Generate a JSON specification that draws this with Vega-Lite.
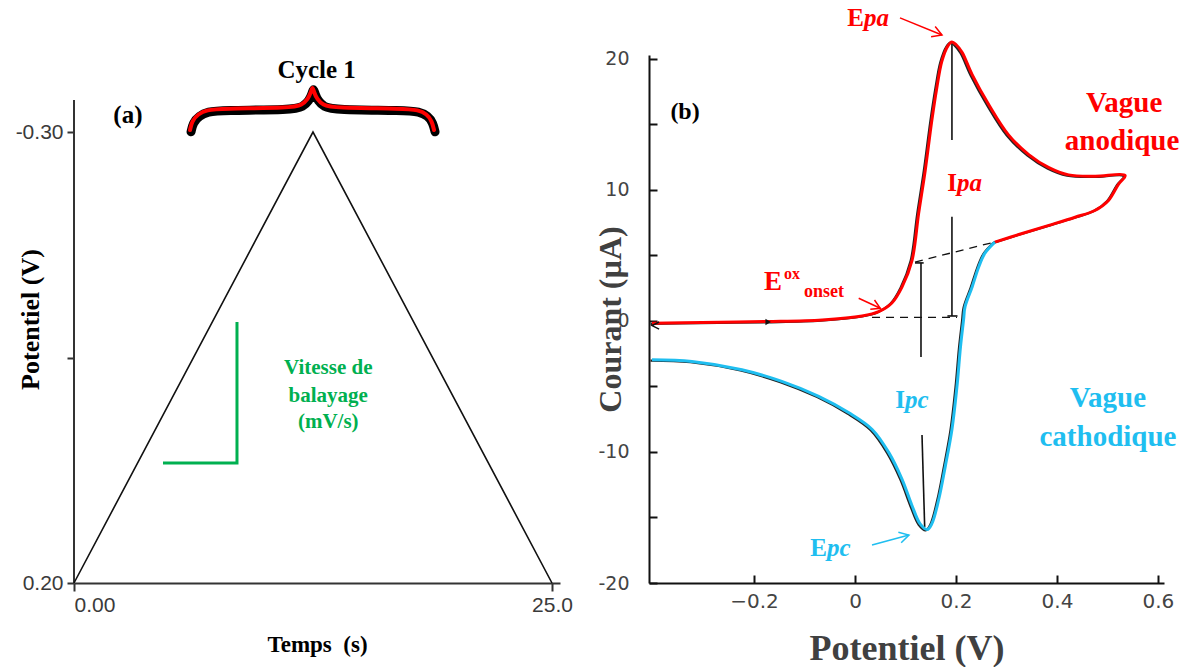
{
  "$schema": "https://vega.github.io/schema/vega-lite/v6.json",
  "padding": {"left": 15, "top": 5, "right": 5, "bottom": 5},
  "spacing": 21,
  "config": {"view": {"stroke": null}},
  "datasets": {
    "triangle": [{"t": 0, "v": 0.2}, {"t": 12.5, "v": -0.3}, {"t": 25, "v": 0.2}],
    "axe_y": [{"t": 0, "v": -0.3355, "v2": 0.2}],
    "accolade": [
      {"o": 1, "t": 6.07, "v": -0.3022}, {"o": 2, "t": 6.17, "v": -0.3122}, {"o": 3, "t": 6.49, "v": -0.32},
      {"o": 4, "t": 6.96, "v": -0.3244}, {"o": 5, "t": 7.64, "v": -0.3261}, {"o": 6, "t": 11.4, "v": -0.3266},
      {"o": 7, "t": 11.92, "v": -0.3299}, {"o": 8, "t": 12.24, "v": -0.3366}, {"o": 9, "t": 12.4, "v": -0.3443},
      {"o": 10, "t": 12.47, "v": -0.351}, {"o": 11, "t": 12.55, "v": -0.3443}, {"o": 12, "t": 12.71, "v": -0.3366},
      {"o": 13, "t": 13.02, "v": -0.3299}, {"o": 14, "t": 13.55, "v": -0.3266}, {"o": 15, "t": 17.31, "v": -0.3261},
      {"o": 16, "t": 17.99, "v": -0.3244}, {"o": 17, "t": 18.46, "v": -0.32}, {"o": 18, "t": 18.72, "v": -0.3122},
      {"o": 19, "t": 18.83, "v": -0.3022}
    ],
    "echelle": [{"o": 1, "t": 8.525, "v": -0.0894}, {"o": 2, "t": 8.525, "v": 0.067}, {"o": 3, "t": 4.655, "v": 0.067}],
    "texte_vert": [
      {"txt": "Vitesse de", "t": 13.3, "v": -0.038},
      {"txt": "balayage", "t": 13.3, "v": -0.0077},
      {"txt": "(mV/s)", "t": 13.3, "v": 0.0212}
    ],
    "textes_a": [{"txt": "(a)", "t": 2.82, "v": -0.3188}, {"txt": "Cycle 1", "t": 12.69, "v": -0.3687}],
    "cv": [
      {"branche": "anodique", "i": 1, "E": -0.402, "I": -0.17},
      {"branche": "anodique", "i": 2, "E": -0.303, "I": -0.11},
      {"branche": "anodique", "i": 3, "E": -0.174, "I": -0.04},
      {"branche": "anodique", "i": 4, "E": -0.065, "I": 0.08},
      {"branche": "anodique", "i": 5, "E": 0.014, "I": 0.38},
      {"branche": "anodique", "i": 6, "E": 0.047, "I": 0.71},
      {"branche": "anodique", "i": 7, "E": 0.073, "I": 1.37},
      {"branche": "anodique", "i": 8, "E": 0.093, "I": 2.58},
      {"branche": "anodique", "i": 9, "E": 0.113, "I": 4.63},
      {"branche": "anodique", "i": 10, "E": 0.126, "I": 8.2},
      {"branche": "anodique", "i": 11, "E": 0.139, "I": 11.47},
      {"branche": "anodique", "i": 12, "E": 0.152, "I": 15.26},
      {"branche": "anodique", "i": 13, "E": 0.162, "I": 17.79},
      {"branche": "anodique", "i": 14, "E": 0.172, "I": 19.82},
      {"branche": "anodique", "i": 15, "E": 0.184, "I": 21.0},
      {"branche": "anodique", "i": 16, "E": 0.192, "I": 21.3},
      {"branche": "anodique", "i": 17, "E": 0.2, "I": 21.1},
      {"branche": "anodique", "i": 18, "E": 0.212, "I": 20.5},
      {"branche": "anodique", "i": 19, "E": 0.232, "I": 18.8},
      {"branche": "anodique", "i": 20, "E": 0.265, "I": 16.5},
      {"branche": "anodique", "i": 21, "E": 0.304, "I": 14.2},
      {"branche": "anodique", "i": 22, "E": 0.344, "I": 12.7},
      {"branche": "anodique", "i": 23, "E": 0.384, "I": 11.7},
      {"branche": "anodique", "i": 24, "E": 0.423, "I": 11.15},
      {"branche": "anodique", "i": 25, "E": 0.475, "I": 11.05},
      {"branche": "anodique", "i": 26, "E": 0.535, "I": 11.1},
      {"branche": "anodique", "i": 27, "E": 0.522, "I": 10.45},
      {"branche": "anodique", "i": 28, "E": 0.502, "I": 9.2},
      {"branche": "anodique", "i": 29, "E": 0.475, "I": 8.43},
      {"branche": "anodique", "i": 30, "E": 0.436, "I": 7.92},
      {"branche": "anodique", "i": 31, "E": 0.384, "I": 7.3},
      {"branche": "anodique", "i": 32, "E": 0.331, "I": 6.68},
      {"branche": "anodique", "i": 33, "E": 0.277, "I": 6.02},
      {"branche": "cathodique", "i": 1, "E": 0.277, "I": 6.02},
      {"branche": "cathodique", "i": 2, "E": 0.257, "I": 5.16},
      {"branche": "cathodique", "i": 3, "E": 0.245, "I": 4.12},
      {"branche": "cathodique", "i": 4, "E": 0.232, "I": 2.6},
      {"branche": "cathodique", "i": 5, "E": 0.218, "I": 1.09},
      {"branche": "cathodique", "i": 6, "E": 0.215, "I": 0.08},
      {"branche": "cathodique", "i": 7, "E": 0.209, "I": -1.95},
      {"branche": "cathodique", "i": 8, "E": 0.202, "I": -4.99},
      {"branche": "cathodique", "i": 9, "E": 0.192, "I": -8.28},
      {"branche": "cathodique", "i": 10, "E": 0.179, "I": -11.06},
      {"branche": "cathodique", "i": 11, "E": 0.166, "I": -13.59},
      {"branche": "cathodique", "i": 12, "E": 0.152, "I": -15.49},
      {"branche": "cathodique", "i": 13, "E": 0.143, "I": -15.92},
      {"branche": "cathodique", "i": 14, "E": 0.129, "I": -15.49},
      {"branche": "cathodique", "i": 15, "E": 0.113, "I": -14.1},
      {"branche": "cathodique", "i": 16, "E": 0.093, "I": -12.07},
      {"branche": "cathodique", "i": 17, "E": 0.067, "I": -10.05},
      {"branche": "cathodique", "i": 18, "E": 0.034, "I": -8.28},
      {"branche": "cathodique", "i": 19, "E": -0.012, "I": -7.01},
      {"branche": "cathodique", "i": 20, "E": -0.072, "I": -5.75},
      {"branche": "cathodique", "i": 21, "E": -0.145, "I": -4.61},
      {"branche": "cathodique", "i": 22, "E": -0.224, "I": -3.72},
      {"branche": "cathodique", "i": 23, "E": -0.323, "I": -3.09},
      {"branche": "cathodique", "i": 24, "E": -0.402, "I": -2.96}
    ],
    "tirets": [
      {"g": "base", "i": 1, "E": 0.0337, "I": 0.27}, {"g": "base", "i": 2, "E": 0.202, "I": 0.27},
      {"g": "pente", "i": 1, "E": 0.1188, "I": 4.5}, {"g": "pente", "i": 2, "E": 0.2772, "I": 6.03}
    ],
    "verticales": [
      {"g": "ipa1", "i": 1, "E": 0.192, "I": 21.3}, {"g": "ipa1", "i": 2, "E": 0.192, "I": 13.82},
      {"g": "ipa2", "i": 1, "E": 0.192, "I": 7.96}, {"g": "ipa2", "i": 2, "E": 0.192, "I": 0.38},
      {"g": "ipa3", "i": 1, "E": 0.183, "I": 0.38}, {"g": "ipa3", "i": 2, "E": 0.203, "I": 0.38},
      {"g": "ipc0", "i": 1, "E": 0.1188, "I": 4.43}, {"g": "ipc0", "i": 2, "E": 0.136, "I": 4.43},
      {"g": "ipc1", "i": 1, "E": 0.1307, "I": 4.43}, {"g": "ipc1", "i": 2, "E": 0.1307, "I": -2.75},
      {"g": "ipc2", "i": 1, "E": 0.1327, "I": -8.7}, {"g": "ipc2", "i": 2, "E": 0.138, "I": -15.73}
    ],
    "fleches": [
      {"g": "epa_s", "c": "anodique", "i": 1, "E": 0.0891, "I": 23.13}, {"g": "epa_s", "c": "anodique", "i": 2, "E": 0.1723, "I": 21.83},
      {"g": "epa_h", "c": "anodique", "i": 1, "E": 0.1507, "I": 21.69}, {"g": "epa_h", "c": "anodique", "i": 2, "E": 0.1723, "I": 21.83}, {"g": "epa_h", "c": "anodique", "i": 3, "E": 0.1588, "I": 22.47},
      {"g": "eox_s", "c": "anodique", "i": 1, "E": 0.0073, "I": 1.73}, {"g": "eox_s", "c": "anodique", "i": 2, "E": 0.0501, "I": 0.97},
      {"g": "eox_h", "c": "anodique", "i": 1, "E": 0.0303, "I": 0.9}, {"g": "eox_h", "c": "anodique", "i": 2, "E": 0.0501, "I": 0.97}, {"g": "eox_h", "c": "anodique", "i": 3, "E": 0.0386, "I": 1.6},
      {"g": "epc_s", "c": "cathodique", "i": 1, "E": 0.0337, "I": -17.1}, {"g": "epc_s", "c": "cathodique", "i": 2, "E": 0.1069, "I": -16.34},
      {"g": "epc_h", "c": "cathodique", "i": 1, "E": 0.0915, "I": -16.93}, {"g": "epc_h", "c": "cathodique", "i": 2, "E": 0.1069, "I": -16.34}, {"g": "epc_h", "c": "cathodique", "i": 3, "E": 0.0859, "I": -16.12}
    ],
    "lettres": [
      {"txt": "E", "c": "anodique", "E": 0.0178, "I": 23.13},
      {"txt": "I", "c": "anodique", "E": 0.202, "I": 10.51},
      {"txt": "I", "c": "cathodique", "E": 0.099, "I": -6.03},
      {"txt": "E", "c": "cathodique", "E": -0.0554, "I": -17.33}
    ],
    "indices": [
      {"txt": "pa", "c": "anodique", "E": 0.0178, "I": 23.13},
      {"txt": "pa", "c": "anodique", "E": 0.202, "I": 10.51},
      {"txt": "pc", "c": "cathodique", "E": 0.099, "I": -6.03},
      {"txt": "pc", "c": "cathodique", "E": -0.0554, "I": -17.33}
    ],
    "vagues": [
      {"txt": "Vague", "c": "anodique", "E": 0.533, "I": 16.64},
      {"txt": "anodique", "c": "anodique", "E": 0.529, "I": 13.74},
      {"txt": "Vague", "c": "cathodique", "E": 0.501, "I": -5.88},
      {"txt": "cathodique", "c": "cathodique", "E": 0.501, "I": -8.85}
    ],
    "eox_e": [{"txt": "E", "E": -0.18, "I": 2.98}],
    "eox_ox": [{"txt": "ox", "E": -0.1406, "I": 3.59}],
    "eox_onset": [{"txt": "onset", "E": -0.101, "I": 2.21}],
    "lettre_b": [{"txt": "(b)", "E": -0.3366, "I": 15.95}],
    "sens": [{"E": -0.172, "I": -0.08}],
    "depart": [{"E": -0.395, "I": -0.35}]
  },
  "hconcat": [
    {
      "width": 486,
      "height": 528,
      "encoding": {
        "x": {"field": "t", "type": "quantitative", "scale": {"domain": [0, 25.42], "nice": false, "zero": false},
          "axis": {"values": [0, 25], "labelExpr": "datum.value == 0 ? '0.00' : '25.0'", "title": "Temps\u00a0 (s)",
            "titleFont": "Liberation Serif", "titleFontWeight": "bold", "titleFontSize": 23, "titleColor": "#000000", "titlePadding": 18,
            "labelFont": "Liberation Sans", "labelFontSize": 21, "labelColor": "#3a3a3a", "labelPadding": 3,
            "domainColor": "#333333", "domainWidth": 2, "tickColor": "#333333", "tickWidth": 2, "tickSize": 8, "grid": false}},
        "y": {"field": "v", "type": "quantitative", "scale": {"domain": [-0.3854, 0.2], "reverse": true, "nice": false, "zero": false},
          "axis": {"values": [-0.3, -0.05, 0.2], "labelExpr": "datum.value == -0.3 ? '-0.30' : (datum.value == 0.2 ? '0.20' : '')", "title": "Potentiel (V)",
            "titleFont": "Liberation Serif", "titleFontWeight": "bold", "titleFontSize": 26, "titleColor": "#000000", "titlePadding": -28,
            "labelFont": "Liberation Sans", "labelFontSize": 21, "labelColor": "#3a3a3a", "labelPadding": 4,
            "domain": false, "tickColor": "#333333", "tickWidth": 2, "tickSize": 7, "grid": false}}
      },
      "layer": [
        {"data": {"name": "axe_y"}, "mark": {"type": "rule", "color": "#333333", "strokeWidth": 2}, "encoding": {"y2": {"field": "v2"}}},
        {"data": {"name": "triangle"}, "mark": {"type": "line", "color": "#111111", "strokeWidth": 1.6}, "encoding": {}},
        {"data": {"name": "accolade"}, "mark": {"type": "line", "color": "#000000", "strokeWidth": 9, "strokeCap": "round", "strokeJoin": "round", "interpolate": "basis", "clip": false}, "encoding": {"order": {"field": "o"}, "yOffset": {"value": 1.8}, "xOffset": {"value": 1}}},
        {"data": {"name": "accolade"}, "mark": {"type": "line", "color": "#ff0000", "strokeWidth": 4, "strokeCap": "round", "strokeJoin": "round", "interpolate": "basis", "clip": false}, "encoding": {"order": {"field": "o"}}},
        {"data": {"name": "echelle"}, "mark": {"type": "line", "color": "#00b050", "strokeWidth": 3}, "encoding": {"order": {"field": "o"}}},
        {"data": {"name": "texte_vert"}, "mark": {"type": "text", "color": "#00b050", "font": "Liberation Serif", "fontWeight": "bold", "fontSize": 21, "align": "center", "baseline": "middle"}, "encoding": {"text": {"field": "txt"}}},
        {"data": {"name": "textes_a"}, "mark": {"type": "text", "color": "#000000", "font": "Liberation Serif", "fontWeight": "bold", "fontSize": 25, "align": "center", "baseline": "middle"}, "encoding": {"text": {"field": "txt"}}}
      ]
    },
    {
      "width": 515,
      "height": 528,
      "encoding": {
        "x": {"field": "E", "type": "quantitative", "scale": {"domain": [-0.408, 0.612], "nice": false, "zero": false},
          "axis": {"values": [-0.2, 0, 0.2, 0.4, 0.6], "labelExpr": "datum.value == 0 ? '0' : format(datum.value, '.1f')", "title": "Potentiel (V)",
            "titleFont": "Liberation Serif", "titleFontWeight": "bold", "titleFontSize": 36, "titleColor": "#404040", "titlePadding": 20,
            "labelFont": "DejaVu Sans", "labelFontSize": 20, "labelColor": "#444444", "labelPadding": 16,
            "domainColor": "#111111", "domainWidth": 2, "tickColor": "#111111", "tickWidth": 2, "tickSize": -8, "grid": false}},
        "y": {"field": "I", "type": "quantitative", "scale": {"domain": [-20, 20.3], "nice": false, "zero": false},
          "axis": {"values": [-20, -15, -10, -5, 0, 5, 10, 15, 20], "labelExpr": "datum.value % 10 == 0 ? replace(format(datum.value, 'd'), '\u2212', '-') : ''", "title": "Courant (\u00b5A)",
            "titleFont": "Liberation Serif", "titleFontWeight": "bold", "titleFontSize": 32, "titleColor": "#404040", "titlePadding": -30,
            "labelFont": "DejaVu Sans", "labelFontSize": 19, "labelColor": "#444444", "labelPadding": 28,
            "domainColor": "#111111", "domainWidth": 2, "tickColor": "#111111", "tickWidth": 2, "tickSize": -8, "grid": false}}
      },
      "layer": [
        {"data": {"name": "tirets"}, "mark": {"type": "line", "color": "#111111", "strokeWidth": 1.3, "strokeDash": [8, 6]}, "encoding": {"detail": {"field": "g"}, "order": {"field": "i"}}},
        {"data": {"name": "verticales"}, "mark": {"type": "line", "color": "#111111", "strokeWidth": 1.6}, "encoding": {"detail": {"field": "g"}, "order": {"field": "i"}}},
        {"data": {"name": "cv"}, "mark": {"type": "line", "color": "#222222", "strokeWidth": 2.2, "interpolate": "catmull-rom", "strokeJoin": "round"},
          "encoding": {"order": {"field": "i"}, "detail": {"field": "branche"}, "xOffset": {"value": -1.5}, "yOffset": {"value": 0.8}}},
        {"data": {"name": "cv"}, "mark": {"type": "line", "strokeWidth": 3, "interpolate": "catmull-rom", "strokeJoin": "round"},
          "encoding": {"order": {"field": "i"}, "color": {"field": "branche", "type": "nominal", "scale": {"domain": ["anodique", "cathodique"], "range": ["#ff0000", "#1fbef0"]}, "legend": null}}},
        {"data": {"name": "sens"}, "mark": {"type": "point", "shape": "triangle-right", "filled": true, "color": "#111111", "size": 40, "opacity": 1}, "encoding": {}},
        {"data": {"name": "depart"}, "mark": {"type": "point", "shape": "M1,-1L-1,0L1,1", "filled": false, "color": "#111111", "strokeWidth": 1.5, "size": 50, "opacity": 1}, "encoding": {}},
        {"data": {"name": "fleches"}, "mark": {"type": "line", "strokeWidth": 1.5, "clip": false},
          "encoding": {"detail": {"field": "g"}, "order": {"field": "i"}, "color": {"field": "c", "type": "nominal", "scale": {"domain": ["anodique", "cathodique"], "range": ["#ff0000", "#1fbef0"]}, "legend": null}}},
        {"data": {"name": "lettres"}, "mark": {"type": "text", "font": "Liberation Serif", "fontWeight": "bold", "fontSize": 25, "align": "right", "baseline": "middle"},
          "encoding": {"text": {"field": "txt"}, "color": {"field": "c", "type": "nominal", "scale": {"domain": ["anodique", "cathodique"], "range": ["#ff0000", "#1fbef0"]}, "legend": null}}},
        {"data": {"name": "indices"}, "mark": {"type": "text", "font": "Liberation Serif", "fontWeight": "bold", "fontStyle": "italic", "fontSize": 25, "align": "left", "baseline": "middle"},
          "encoding": {"text": {"field": "txt"}, "color": {"field": "c", "type": "nominal", "scale": {"domain": ["anodique", "cathodique"], "range": ["#ff0000", "#1fbef0"]}, "legend": null}}},
        {"data": {"name": "vagues"}, "mark": {"type": "text", "font": "Liberation Serif", "fontWeight": "bold", "fontSize": 29, "align": "center", "baseline": "middle"},
          "encoding": {"text": {"field": "txt"}, "color": {"field": "c", "type": "nominal", "scale": {"domain": ["anodique", "cathodique"], "range": ["#ff0000", "#1fbef0"]}, "legend": null}}},
        {"data": {"name": "eox_e"}, "mark": {"type": "text", "color": "#ff0000", "font": "Liberation Serif", "fontWeight": "bold", "fontSize": 27, "align": "left", "baseline": "middle"}, "encoding": {"text": {"field": "txt"}}},
        {"data": {"name": "eox_ox"}, "mark": {"type": "text", "color": "#ff0000", "font": "Liberation Serif", "fontWeight": "bold", "fontSize": 16, "align": "left", "baseline": "middle"}, "encoding": {"text": {"field": "txt"}}},
        {"data": {"name": "eox_onset"}, "mark": {"type": "text", "color": "#ff0000", "font": "Liberation Serif", "fontWeight": "bold", "fontSize": 18, "align": "left", "baseline": "middle"}, "encoding": {"text": {"field": "txt"}}},
        {"data": {"name": "lettre_b"}, "mark": {"type": "text", "color": "#000000", "font": "Liberation Serif", "fontWeight": "bold", "fontSize": 24, "align": "center", "baseline": "middle"}, "encoding": {"text": {"field": "txt"}}}
      ]
    }
  ]
}
